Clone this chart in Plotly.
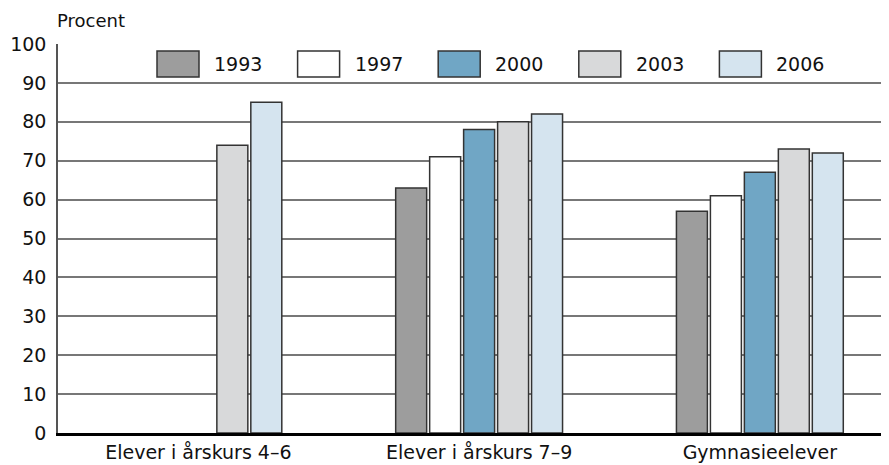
import plotly.graph_objects as go

categories = ["Elever i årskurs 4–6", "Elever i årskurs 7–9", "Gymnasieelever"]
years = ["1993", "1997", "2000", "2003", "2006"]
v1993 = [None, 63, 57]
v1997 = [None, 71, 61]
v2000 = [None, 78, 67]
v2003 = [74, 80, 73]
v2006 = [85, 82, 72]
series = [v1993, v1997, v2000, v2003, v2006]
colors = ["#9d9d9d", "#ffffff", "#70a6c5", "#d8d9da", "#d5e4ef"]
yticks = list(range(0, 101, 10))

FONT = "DejaVu Sans, Arial, sans-serif"
FS = 19

fig = go.Figure()
for name, vals, col in zip(years, series, colors):
    fig.add_trace(go.Bar(
        x=categories, y=vals, name=name,
        marker=dict(color=col, line=dict(color="#333333", width=1.5)),
        showlegend=False,
    ))

# page has an 8px body margin; figure sized so the plot lands where the reference has it
OFF = 8
W, H = 889 - OFF, 465 - OFF
ml, mr, mt, mb = 58 - OFF, 0, 44 - OFF, 32
pw = W - ml - mr

# custom legend (large swatches), pixel positions in page coordinates
shapes = []
annos = []
x0px = 157
step = 140.6
for i, (name, col) in enumerate(zip(years, colors)):
    bx = x0px + i * step
    shapes.append(dict(
        type="rect", xref="paper", yref="y",
        x0=(bx - 58) / pw, x1=(bx + 42 - 58) / pw,
        y0=91.5, y1=98.2,
        fillcolor=col, line=dict(color="#333333", width=1.5), layer="above",
    ))
    annos.append(dict(
        xref="paper", yref="y", x=(bx + 55 - 58) / pw, y=94.9,
        text=name, showarrow=False, xanchor="left", yanchor="middle",
        font=dict(family=FONT, size=FS, color="#111111"),
    ))
annos.append(dict(
    xref="paper", yref="paper", x=0, y=1, yshift=11, xshift=-3,
    text="Procent", showarrow=False, xanchor="left", yanchor="bottom",
    font=dict(family=FONT, size=FS - 1, color="#111111"),
))

fig.update_layout(
    width=W, height=H,
    margin=dict(l=ml, r=mr, t=mt, b=mb, pad=0, autoexpand=False),
    paper_bgcolor="white", plot_bgcolor="white",
    barmode="group", bargap=0.395, bargroupgap=0.088,
    font=dict(family=FONT, size=FS, color="#111111"),
    shapes=shapes, annotations=annos,
    xaxis=dict(
        type="category", range=[-0.5, 2.46], automargin=False,
        showgrid=False, showline=True, linecolor="#000000", linewidth=2.5,
        ticks="", tickfont=dict(family=FONT, size=FS, color="#111111"),
        ticklabelstandoff=0,
    ),
    yaxis=dict(
        range=[0, 100], tickvals=yticks, ticktext=[str(t) for t in yticks],
        automargin=False,
        showgrid=True, gridcolor="#777777", gridwidth=1.5,
        showline=True, linecolor="#555555", linewidth=1.5,
        zeroline=False, ticks="", ticklabelstandoff=6,
        tickfont=dict(family=FONT, size=FS, color="#111111"),
    ),
)

fig.write_html("out.html")
